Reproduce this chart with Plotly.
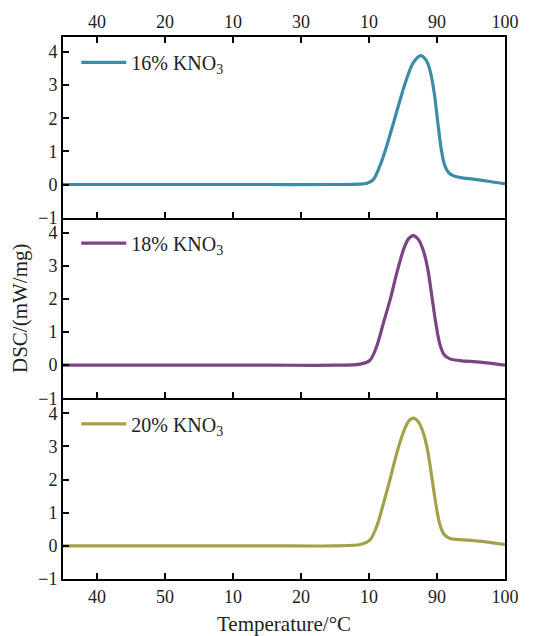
import plotly.graph_objects as go

# ---- data ----
temp_16 = [35, 50, 65, 75, 78.5, 79.7, 80.6, 81.6, 82.6, 83.6, 84.6, 85.5, 86.5, 87.6,
           88.4, 89.0, 89.6, 90.1, 90.6, 91.1, 91.7, 92.5, 93.5, 95.3, 97.8, 100]
dsc_16 = [0, 0, 0, 0, 0.01, 0.04, 0.14, 0.56, 1.16, 1.86, 2.57, 3.17, 3.67, 3.89,
          3.75, 3.42, 2.75, 1.9, 1.1, 0.6, 0.36, 0.26, 0.21, 0.16, 0.09, 0.02]

temp_18 = [35, 50, 65, 75, 78.7, 80.1, 81.1, 82.1, 83.1, 84.1, 85.1, 85.8, 86.5, 87.3,
           88.0, 88.6, 89.2, 89.8, 90.4, 91.0, 91.9, 93.4, 96.3, 100]
dsc_18 = [0, 0, 0, 0, 0.03, 0.14, 0.55, 1.26, 1.97, 2.79, 3.5, 3.81, 3.91, 3.78,
          3.45, 2.95, 2.15, 1.3, 0.65, 0.33, 0.19, 0.14, 0.09, 0.0]

temp_20 = [35, 50, 65, 75, 78.7, 80.1, 81.1, 82.1, 83.1, 84.1, 85.1, 85.8, 86.5, 87.3,
           88.0, 88.6, 89.2, 89.8, 90.4, 91.0, 91.9, 93.4, 96.3, 100]
dsc_20 = [0, 0, 0, 0, 0.04, 0.17, 0.57, 1.26, 2.01, 2.81, 3.45, 3.75, 3.85, 3.73,
          3.4, 2.9, 2.12, 1.3, 0.66, 0.36, 0.22, 0.19, 0.14, 0.04]

series_names = ["16% KNO<sub>3</sub>", "18% KNO<sub>3</sub>", "20% KNO<sub>3</sub>"]
series_colors = ["#3c8ca8", "#7b4483", "#a3a24a"]

tick_vals = [40, 50, 60, 70, 80, 90, 100]
tick_text_bottom = ["40", "50", "10", "20", "10", "90", "100"]
tick_text_top = ["40", "20", "10", "30", "10", "90", "100"]
y_ticks = [-1, 0, 1, 2, 3, 4]

FONT = "Liberation Serif, Times New Roman, serif"
TXT = "#222222"

fig = go.Figure()
temps = [temp_16, temp_18, temp_20]
dscs = [dsc_16, dsc_18, dsc_20]
yaxes = ["y", "y2", "y3"]
xaxes = ["x3", "x2", "x"]
legends = ["legend", "legend2", "legend3"]
for i in range(3):
    fig.add_trace(go.Scatter(
        x=temps[i], y=dscs[i], mode="lines", name=series_names[i],
        line=dict(color=series_colors[i], width=3.2, shape="spline", smoothing=0.9),
        xaxis=xaxes[i], yaxis=yaxes[i], legend=legends[i], showlegend=True))

# dummy trace for top axis
fig.add_trace(go.Scatter(x=[None], y=[None], xaxis="x4", yaxis="y", showlegend=False))

L, R, T, B = 63, 46, 34, 57
W, H = 551, 636
ph = H - T - B
xr = [35, 100]
yr = [-1, 4.45]

common_x = dict(range=xr, tickvals=tick_vals, ticks="inside", ticklen=6, tickwidth=1.5,
                tickcolor="black", showline=True, linecolor="black", linewidth=1.8,
                showgrid=False, zeroline=False,
                tickfont=dict(family=FONT, size=18, color=TXT))
common_y = dict(range=yr, tickvals=y_ticks, ticktext=["\u22121", "0", "1", "2", "3", "4"],
                ticks="inside", ticklen=6, tickwidth=1.5, tickcolor="black",
                showline=True, linecolor="black", linewidth=1.8, mirror=True,
                showgrid=False, zeroline=False,
                tickfont=dict(family=FONT, size=18, color=TXT))

fig.update_layout(
    width=W, height=H,
    margin=dict(l=L, r=R, t=T, b=B),
    plot_bgcolor="white", paper_bgcolor="white",
    xaxis=dict(**common_x, anchor="y3", ticktext=tick_text_bottom, domain=[0, 1]),
    xaxis2=dict(**common_x, anchor="y2", matches="x", showticklabels=False),
    xaxis3=dict(**common_x, anchor="y", matches="x", showticklabels=False),
    xaxis4=dict(**common_x, anchor="y", side="top", overlaying="x3",
                ticktext=tick_text_top),
    yaxis=dict(**common_y, domain=[2/3, 1], anchor="x3"),
    yaxis2=dict(**common_y, domain=[1/3, 2/3], anchor="x2"),
    yaxis3=dict(**common_y, domain=[0, 1/3], anchor="x"),
)

for i, lg in enumerate(legends):
    top = 1 - i / 3
    fig.update_layout({lg: dict(
        x=0.03, xanchor="left", y=top - 6 / ph, yanchor="top",
        bgcolor="rgba(0,0,0,0)", borderwidth=0, itemwidth=45,
        font=dict(family=FONT, size=20, color=TXT))})

fig.add_annotation(text="DSC/(mW/mg)", xref="paper", yref="paper",
                   x=(20 - L) / (W - L - R), y=0.5, textangle=-90, showarrow=False,
                   xanchor="center", yanchor="middle",
                   font=dict(family=FONT, size=21, color=TXT))
fig.add_annotation(text="Temperature/\u00b0C", xref="paper", yref="paper",
                   x=0.5, y=(579 - 624) / ph, showarrow=False,
                   xanchor="center", yanchor="middle",
                   font=dict(family=FONT, size=21, color=TXT))

fig.write_html("out.html")
